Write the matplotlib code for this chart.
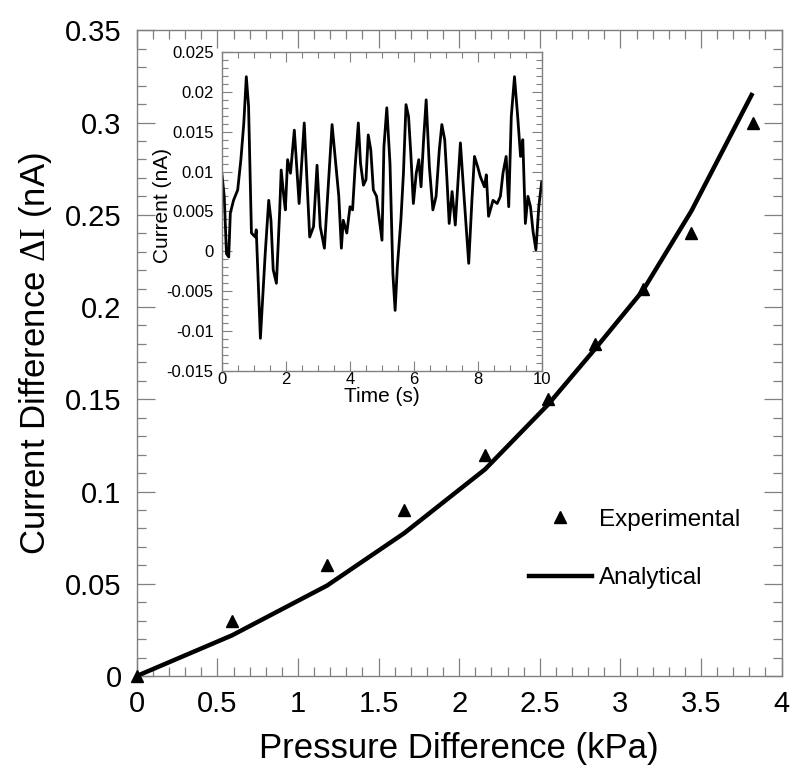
import matplotlib
matplotlib.use("Agg")
import matplotlib.pyplot as plt
from matplotlib.ticker import MultipleLocator, FuncFormatter
from matplotlib.legend_handler import HandlerLine2D
from matplotlib.lines import Line2D

plt.rcParams['font.family'] = ['Liberation Sans', 'DejaVu Sans']
plt.rcParams['mathtext.fontset'] = 'custom'
plt.rcParams['mathtext.rm'] = 'Liberation Serif'
plt.rcParams['mathtext.it'] = 'Liberation Serif:italic'

# ---------------- data ----------------
pressure = [0, 0.59, 1.18, 1.66, 2.16, 2.55, 2.84, 3.14, 3.44, 3.82]
exp_current = [0, 0.03, 0.06, 0.09, 0.12, 0.15, 0.18, 0.21, 0.24, 0.30]
analytical_current = [0, 0.022, 0.049, 0.0775, 0.112, 0.147, 0.177, 0.209, 0.252, 0.316]

time_s = [0.0, 0.07, 0.14, 0.21, 0.26, 0.36, 0.49, 0.59, 0.68, 0.76, 0.83, 0.92, 1.04, 1.07,
          1.2, 1.35, 1.46, 1.53, 1.6, 1.7, 1.8, 1.85, 1.93, 1.98, 2.05, 2.14, 2.26, 2.41,
          2.57, 2.74, 2.86, 2.97, 3.07, 3.2, 3.44, 3.65, 3.73, 3.79, 3.9, 4.0, 4.08, 4.16,
          4.26, 4.33, 4.42, 4.5, 4.57, 4.65, 4.73, 4.83, 4.92, 5.0, 5.06, 5.15, 5.25, 5.34,
          5.41, 5.48, 5.59, 5.67, 5.75, 5.83, 5.9, 5.98, 6.07, 6.15, 6.22, 6.3, 6.38, 6.48,
          6.59, 6.69, 6.79, 6.87, 6.96, 7.03, 7.1, 7.19, 7.29, 7.45, 7.55, 7.71, 7.81, 7.89,
          7.99, 8.07, 8.2, 8.26, 8.33, 8.47, 8.6, 8.7, 8.78, 8.88, 8.96, 9.04, 9.14, 9.24,
          9.33, 9.4, 9.48, 9.56, 9.64, 9.72, 9.81, 9.9, 9.99]
signal_nA = [0.0096, 0.0069, -0.0003, -0.0007, 0.0048, 0.0064, 0.0077, 0.0115, 0.016, 0.0219,
             0.0182, 0.0023, 0.0018, 0.0027, -0.0109, -0.0003, 0.0064, 0.0039, -0.0023, -0.004,
             0.0048, 0.0102, 0.0069, 0.0052, 0.0115, 0.0098, 0.0152, 0.006, 0.0161, 0.0018,
             0.0031, 0.0108, 0.0031, 0.0004, 0.0159, 0.0069, 0.0004, 0.0039, 0.0023, 0.0056,
             0.0052, 0.0106, 0.0161, 0.011, 0.0083, 0.009, 0.0146, 0.0127, 0.0077, 0.0069,
             0.0039, 0.0014, 0.0131, 0.018, 0.011, -0.0028, -0.0074, -0.0019, 0.0039, 0.0098,
             0.0184, 0.0169, 0.0123, 0.006, 0.0098, 0.0115, 0.0081, 0.014, 0.019, 0.0106,
             0.0052, 0.0069, 0.0127, 0.0159, 0.014, 0.009, 0.0035, 0.0075, 0.0033, 0.0136,
             0.0077, -0.0015, 0.0064, 0.0119, 0.0106, 0.0094, 0.0081, 0.0096, 0.0044, 0.0064,
             0.006, 0.0069, 0.0098, 0.0119, 0.0056, 0.0169, 0.0219, 0.0169, 0.0119, 0.014,
             0.0035, 0.0069, 0.0056, 0.0025, 0.0002, 0.0056, 0.0087]

# ---------------- figure ----------------
fig = plt.figure(figsize=(8.0, 7.77), dpi=100)
ax = fig.add_axes([0.171, 0.130, 0.806, 0.831])

gray = '#808080'
fmt = FuncFormatter(lambda v, p: '%g' % round(v, 6))

ax.plot(pressure, analytical_current, color='black', lw=3.2, solid_capstyle='butt',
        label='Analytical', zorder=3)
ax.plot(pressure, exp_current, linestyle='none', marker='^', color='black', ms=9,
        label='Experimental', zorder=4, clip_on=False)

ax.set_xlim(0, 4)
ax.set_ylim(0, 0.35)
ax.xaxis.set_major_locator(MultipleLocator(0.5))
ax.xaxis.set_minor_locator(MultipleLocator(0.1))
ax.yaxis.set_major_locator(MultipleLocator(0.05))
ax.yaxis.set_minor_locator(MultipleLocator(0.01))
ax.xaxis.set_major_formatter(fmt)
ax.yaxis.set_major_formatter(fmt)
for s in ax.spines.values():
    s.set_color(gray)
    s.set_linewidth(1.0)
ax.tick_params(which='both', direction='in', top=True, right=True, color=gray, width=0.9)
ax.tick_params(which='major', length=13, labelsize=21)
ax.tick_params(which='minor', length=6.5)
ax.tick_params(axis='x', which='major', pad=10)
ax.tick_params(axis='y', which='major', pad=11)
ax.set_xlabel('Pressure Difference (kPa)', fontsize=25, labelpad=10)
ax.set_ylabel(r'Current Difference $\mathrm{\Delta I}$ (nA)', fontsize=25, labelpad=8)


class LeftMarkerHandler(HandlerLine2D):
    def get_xdata(self, legend, xdescent, ydescent, width, height, fontsize):
        xd, xm = super().get_xdata(legend, xdescent, ydescent, width, height, fontsize)
        return xd, [-xdescent + 0.19 * width]


h_exp = Line2D([], [], linestyle='none', marker='^', color='black', ms=9)
h_ana = Line2D([], [], color='black', lw=3.2)
ax.legend([h_exp, h_ana], ['Experimental', 'Analytical'], loc='center',
          bbox_to_anchor=(0.772, 0.197), frameon=False, fontsize=17.5,
          handlelength=2.6, handletextpad=0.3, labelspacing=1.5, numpoints=1,
          handler_map={h_exp: LeftMarkerHandler(numpoints=1)})

# ---------------- inset ----------------
ins = fig.add_axes([0.2775, 0.5225, 0.400, 0.4106])
ins.plot(time_s, signal_nA, color='black', lw=2.0)
ins.set_xlim(0, 10)
ins.set_ylim(-0.015, 0.025)
ins.xaxis.set_major_locator(MultipleLocator(2))
ins.xaxis.set_minor_locator(MultipleLocator(0.5))
ins.yaxis.set_major_locator(MultipleLocator(0.005))
ins.yaxis.set_minor_locator(MultipleLocator(0.001))
ins.xaxis.set_major_formatter(fmt)
ins.yaxis.set_major_formatter(fmt)
for s in ins.spines.values():
    s.set_color(gray)
    s.set_linewidth(1.0)
ins.tick_params(which='both', direction='in', top=True, right=True, color=gray, width=0.8)
ins.tick_params(which='major', length=7, labelsize=12)
ins.tick_params(which='minor', length=4)
ins.tick_params(axis='x', which='major', pad=1)
ins.tick_params(axis='y', which='major', pad=6)
ins.set_xlabel('Time (s)', fontsize=15, labelpad=0)
ins.set_ylabel('Current (nA)', fontsize=15)
ins.yaxis.set_label_coords(-0.155, 0.52)

fig.savefig('out.png', dpi=100)
